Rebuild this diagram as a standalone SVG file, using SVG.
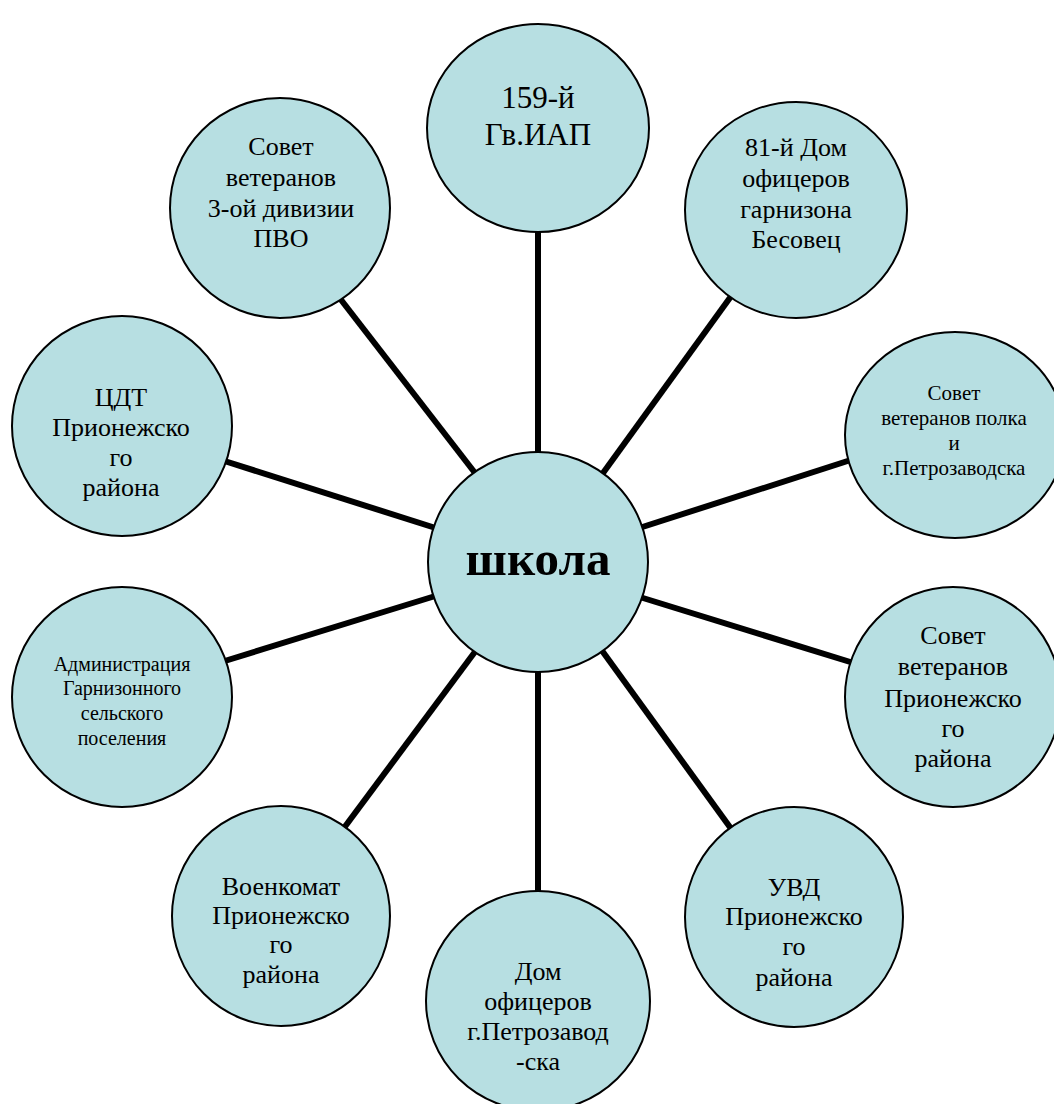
<svg xmlns="http://www.w3.org/2000/svg" width="1054" height="1104" viewBox="0 0 1054 1104">
<style>
.node ellipse, .node circle { fill: #B7DFE2; stroke: #000; stroke-width: 2; }
.t { font-family: "Liberation Serif", "Times New Roman", serif; text-anchor: middle; fill: #000; }
.f26 { font-size: 26px; }
.f21 { font-size: 21px; }
.f20 { font-size: 20px; }
.f31 { font-size: 31px; }
.big { font-size: 49px; font-weight: bold; }
#connectors line { stroke: #000; stroke-width: 6; }
</style>
<rect width="1054" height="1104" fill="#fff"/>
<g id="connectors">
<line x1="538" y1="200" x2="538" y2="480"/>
<line x1="590" y1="491" x2="745" y2="277"/>
<line x1="630" y1="531" x2="860" y2="457"/>
<line x1="630" y1="594" x2="860" y2="665"/>
<line x1="595" y1="641" x2="740" y2="841"/>
<line x1="538" y1="640" x2="538" y2="920"/>
<line x1="483" y1="641" x2="335" y2="840"/>
<line x1="445" y1="593" x2="215" y2="664"/>
<line x1="445" y1="531" x2="215" y2="458"/>
<line x1="482" y1="482" x2="335" y2="292"/>
</g>
<g id="center" class="node">
<circle cx="538" cy="562" r="110"/>
<text class="t big" x="538" y="575">школа</text>
</g>
<g id="n1" class="node">
<ellipse cx="538" cy="128" rx="111" ry="104"/>
<text class="t f31" x="538" y="108">159-й</text>
<text class="t f31" x="538" y="145">Гв.ИАП</text>
</g>
<g id="n2" class="node">
<ellipse cx="796" cy="210" rx="111" ry="108"/>
<text class="t f26" x="796" y="156">81-й Дом</text>
<text class="t f26" x="796" y="187">офицеров</text>
<text class="t f26" x="796" y="218">гарнизона</text>
<text class="t f26" x="796" y="248">Бесовец</text>
</g>
<g id="n3" class="node">
<ellipse cx="955" cy="435" rx="110" ry="103"/>
<text class="t f21" x="954" y="400">Совет</text>
<text class="t f21" x="954" y="425">ветеранов полка</text>
<text class="t f21" x="954" y="450">и</text>
<text class="t f21" x="954" y="475">г.Петрозаводска</text>
</g>
<g id="n4" class="node">
<ellipse cx="953" cy="697" rx="108" ry="110"/>
<text class="t f26" x="953" y="644">Совет</text>
<text class="t f26" x="953" y="675">ветеранов</text>
<text class="t f26" x="953" y="707">Прионежско</text>
<text class="t f26" x="953" y="737">го</text>
<text class="t f26" x="953" y="767">района</text>
</g>
<g id="n5" class="node">
<ellipse cx="794" cy="917" rx="109" ry="110"/>
<text class="t f26" x="794" y="896">УВД</text>
<text class="t f26" x="794" y="925">Прионежско</text>
<text class="t f26" x="794" y="955">го</text>
<text class="t f26" x="794" y="986">района</text>
</g>
<g id="n6" class="node">
<ellipse cx="538" cy="1001" rx="112" ry="110"/>
<text class="t f26" x="538" y="980">Дом</text>
<text class="t f26" x="538" y="1010">офицеров</text>
<text class="t f26" x="538" y="1040">г.Петрозавод</text>
<text class="t f26" x="538" y="1070">-ска</text>
</g>
<g id="n7" class="node">
<ellipse cx="281" cy="916" rx="109" ry="110"/>
<text class="t f26" x="281" y="895">Военкомат</text>
<text class="t f26" x="281" y="924">Прионежско</text>
<text class="t f26" x="281" y="953">го</text>
<text class="t f26" x="281" y="983">района</text>
</g>
<g id="n8" class="node">
<circle cx="122" cy="697" r="110"/>
<text class="t f20" x="122" y="671">Администрация</text>
<text class="t f20" x="122" y="695">Гарнизонного</text>
<text class="t f20" x="122" y="720">сельского</text>
<text class="t f20" x="122" y="745">поселения</text>
</g>
<g id="n9" class="node">
<circle cx="122" cy="426" r="110"/>
<text class="t f26" x="121" y="406">ЦДТ</text>
<text class="t f26" x="121" y="436">Прионежско</text>
<text class="t f26" x="121" y="466">го</text>
<text class="t f26" x="121" y="496">района</text>
</g>
<g id="n10" class="node">
<circle cx="280" cy="208" r="110"/>
<text class="t f26" x="281" y="155">Совет</text>
<text class="t f26" x="281" y="186">ветеранов</text>
<text class="t f26" x="281" y="217">3-ой дивизии</text>
<text class="t f26" x="281" y="247">ПВО</text>
</g>
</svg>
